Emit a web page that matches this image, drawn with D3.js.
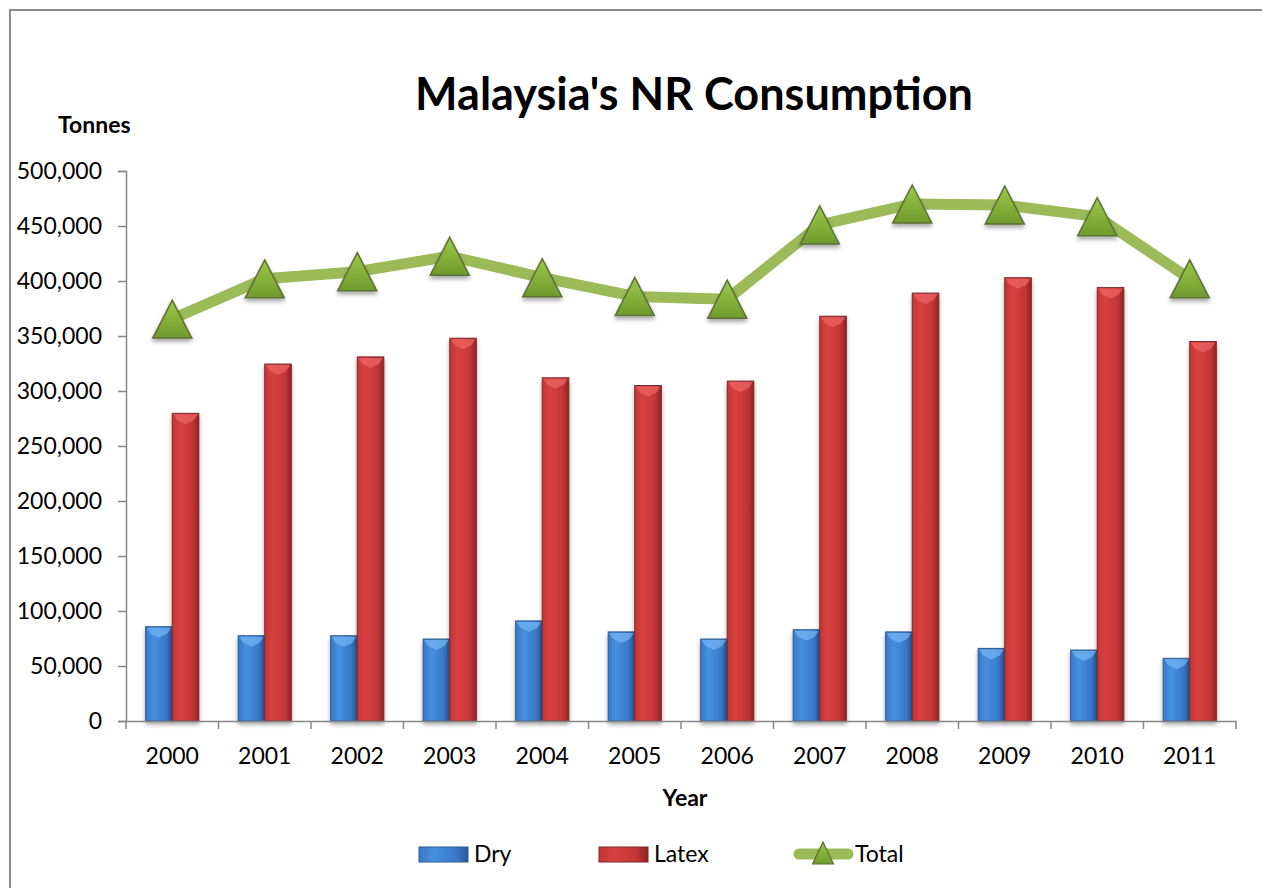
<!DOCTYPE html>
<html>
<head>
<meta charset="utf-8">
<script src="https://cdn.jsdelivr.net/npm/d3@7"></script>
<style>
  body { margin: 0; background: #fff; }
  text { font-family: Lato, "Open Sans", sans-serif; fill: #000; }
</style>
</head>
<body>
<div id="chart"></div>
<script>
const years = ['2000', '2001', '2002', '2003', '2004', '2005', '2006', '2007', '2008', '2009', '2010', '2011'];
const dry = [85700, 77500, 77500, 74500, 91000, 81000, 74500, 83000, 81000, 66000, 64500, 57000];
const latex = [279700, 324500, 331000, 348000, 312000, 305000, 309000, 368000, 389000, 403000, 394000, 345000];
const total = [365400, 402000, 408500, 422500, 403000, 386000, 383500, 451000, 470000, 469000, 458500, 402000];
const yTicks = [0, 50000, 100000, 150000, 200000, 250000, 300000, 350000, 400000, 450000, 500000];
const seriesNames = ['Dry', 'Latex'];

(function () {
    let svg = d3.select('#chart')
        .append('svg')
        .attr('width', 1262)
        .attr('height', 888);

    let defs = svg.append('defs');

    // 柱子的渐变，模拟 Excel 的立体效果
    function barGrad(id, light, mid, dark) {
        let g = defs.append('linearGradient').attr('id', id)
            .attr('x1', 0).attr('x2', 1).attr('y1', 0).attr('y2', 0);
        g.append('stop').attr('offset', '0%').attr('stop-color', mid);
        g.append('stop').attr('offset', '30%').attr('stop-color', light);
        g.append('stop').attr('offset', '75%').attr('stop-color', mid);
        g.append('stop').attr('offset', '100%').attr('stop-color', dark);
    }
    barGrad('gDry', '#4690e0', '#3a78c8', '#2a5a9a');
    barGrad('gLatex', '#d84040', '#c53636', '#922424');

    let tg = defs.append('linearGradient').attr('id', 'gTri')
        .attr('x1', 0).attr('x2', 0).attr('y1', 0).attr('y2', 1);
    tg.append('stop').attr('offset', '0%').attr('stop-color', '#9cc94a');
    tg.append('stop').attr('offset', '100%').attr('stop-color', '#6f9a2c');

    let sh = defs.append('filter').attr('id', 'shadow')
        .attr('x', '-30%').attr('y', '-30%').attr('width', '160%').attr('height', '160%');
    sh.append('feDropShadow').attr('dx', 0).attr('dy', 3).attr('stdDeviation', 2)
        .attr('flood-color', '#000').attr('flood-opacity', 0.35);

    // 外框
    svg.append('rect')
        .attr('x', 10).attr('y', 10)
        .attr('width', 1400).attr('height', 1000)
        .attr('fill', 'none')
        .attr('stroke', '#8c8c8c')
        .attr('stroke-width', 2);

    let left = 126, right = 1236, top = 171, bottom = 721;

    let x = d3.scaleBand()
        .domain(years)
        .range([left, right])
        .padding(0);

    let xSub = d3.scaleBand()
        .domain(seriesNames)
        .range([0, x.bandwidth()])
        .paddingInner(0)
        .paddingOuter(0.74);

    let y = d3.scaleLinear()
        .domain([0, 500000])
        .range([bottom, top]);

    // y 轴
    let axisY = d3.axisLeft(y)
        .tickValues(yTicks)
        .tickFormat(d3.format(','))
        .tickSize(8)
        .tickPadding(16);

    let gy = svg.append('g')
        .attr('transform', 'translate(' + left + ',0)')
        .call(axisY);
    gy.select('.domain').attr('stroke', '#868686').attr('stroke-width', 1.5);
    gy.selectAll('.tick line').attr('stroke', '#868686').attr('stroke-width', 1.5);
    gy.selectAll('.tick text')
        .style('font-family', 'Lato, sans-serif')
        .style('font-size', '23px')
        .attr('fill', '#000');

    // 柱子
    let data = years.map(function (yr, i) {
        return [
            { year: yr, key: 'Dry', value: dry[i] },
            { year: yr, key: 'Latex', value: latex[i] }
        ];
    }).flat();

    let bars = svg.append('g').selectAll('g')
        .data(data)
        .enter()
        .append('g')
        .attr('filter', 'url(#shadow)');

    bars.append('rect')
        .attr('x', function (d) { return x(d.year) + xSub(d.key); })
        .attr('y', function (d) { return y(d.value); })
        .attr('width', xSub.bandwidth())
        .attr('height', function (d) { return bottom - y(d.value); })
        .attr('fill', function (d) { return d.key === 'Dry' ? 'url(#gDry)' : 'url(#gLatex)'; })
        .attr('stroke', function (d) { return d.key === 'Dry' ? '#2d5a8e' : '#7a2a2a'; })
        .attr('stroke-width', 1);

    // 顶部高光斜面
    bars.append('path')
        .attr('d', function (d) {
            let x0 = x(d.year) + xSub(d.key) + 1, w = xSub.bandwidth() - 2, y0 = y(d.value) + 1;
            return 'M' + x0 + ',' + y0 + 'L' + (x0 + w) + ',' + y0 +
                'L' + (x0 + w - 4) + ',' + (y0 + 6) + 'L' + (x0 + w / 2) + ',' + (y0 + 10) +
                'L' + (x0 + 4) + ',' + (y0 + 6) + 'Z';
        })
        .attr('fill', function (d) { return d.key === 'Dry' ? '#6fb0f0' : '#ea6262'; })
        .attr('opacity', 0.8);

    // x 轴
    let axisX = d3.axisBottom(x)
        .tickSize(0)
        .tickPadding(27);
    let gx = svg.append('g')
        .attr('transform', 'translate(0,' + bottom + ')')
        .call(axisX);
    gx.select('.domain').attr('stroke', '#868686').attr('stroke-width', 1.5);
    gx.selectAll('.tick text')
        .style('font-family', 'Lato, sans-serif')
        .style('font-size', '23px')
        .attr('fill', '#000');

    svg.append('g').selectAll('line')
        .data(years.concat(['end']))
        .enter()
        .append('line')
        .attr('x1', function (d) { return d === 'end' ? right : x(d); })
        .attr('x2', function (d) { return d === 'end' ? right : x(d); })
        .attr('y1', bottom)
        .attr('y2', bottom + 8)
        .attr('stroke', '#868686')
        .attr('stroke-width', 1.5);

    // 总量折线
    let line = d3.line()
        .x(function (d, i) { return x(years[i]) + x.bandwidth() / 2; })
        .y(function (d) { return y(d); });

    svg.append('path')
        .datum(total)
        .attr('d', line)
        .attr('fill', 'none')
        .attr('stroke', '#9bbb59')
        .attr('stroke-width', 11)
        .attr('stroke-linejoin', 'round');

    let tri = 'M0,-19L19.5,19L-19.5,19Z';
    svg.append('g').selectAll('path')
        .data(total)
        .enter()
        .append('path')
        .attr('d', tri)
        .attr('transform', function (d, i) {
            return 'translate(' + (x(years[i]) + x.bandwidth() / 2) + ',' + y(d) + ')';
        })
        .attr('fill', 'url(#gTri)')
        .attr('stroke', '#5d6f35')
        .attr('stroke-width', 1.5)
        .attr('filter', 'url(#shadow)');

    // 标题和轴标题
    svg.append('text')
        .attr('x', 694).attr('y', 110)
        .attr('text-anchor', 'middle')
        .style('font-size', '45px')
        .style('font-weight', 'bold')
        .text("Malaysia's NR Consumption");

    svg.append('text')
        .attr('x', 58).attr('y', 133)
        .style('font-size', '23px')
        .style('font-weight', 'bold')
        .text('Tonnes');

    svg.append('text')
        .attr('x', 685).attr('y', 806)
        .attr('text-anchor', 'middle')
        .style('font-size', '23px')
        .style('font-weight', 'bold')
        .text('Year');

    // 图例
    let legend = svg.append('g');
    let legendItems = [
        { name: 'Dry', x: 419, fill: 'url(#gDry)', stroke: '#2d5a8e' },
        { name: 'Latex', x: 599, fill: 'url(#gLatex)', stroke: '#7a2a2a' }
    ];
    legendItems.forEach(function (d) {
        legend.append('rect')
            .attr('x', d.x).attr('y', 847)
            .attr('width', 49).attr('height', 15)
            .attr('fill', d.fill)
            .attr('stroke', d.stroke);
        legend.append('text')
            .attr('x', d.x + 55).attr('y', 862)
            .style('font-size', '23px')
            .text(d.name);
    });
    legend.append('line')
        .attr('x1', 799).attr('x2', 848)
        .attr('y1', 854).attr('y2', 854)
        .attr('stroke', '#9bbb59')
        .attr('stroke-width', 11)
        .attr('stroke-linecap', 'round');
    legend.append('path')
        .attr('d', 'M0,-11L10.5,11L-10.5,11Z')
        .attr('transform', 'translate(823,853)')
        .attr('fill', 'url(#gTri)')
        .attr('stroke', '#5d6f35')
        .attr('stroke-width', 1.2);
    legend.append('text')
        .attr('x', 855).attr('y', 862)
        .style('font-size', '23px')
        .text('Total');
})();
</script>
</body>
</html>
